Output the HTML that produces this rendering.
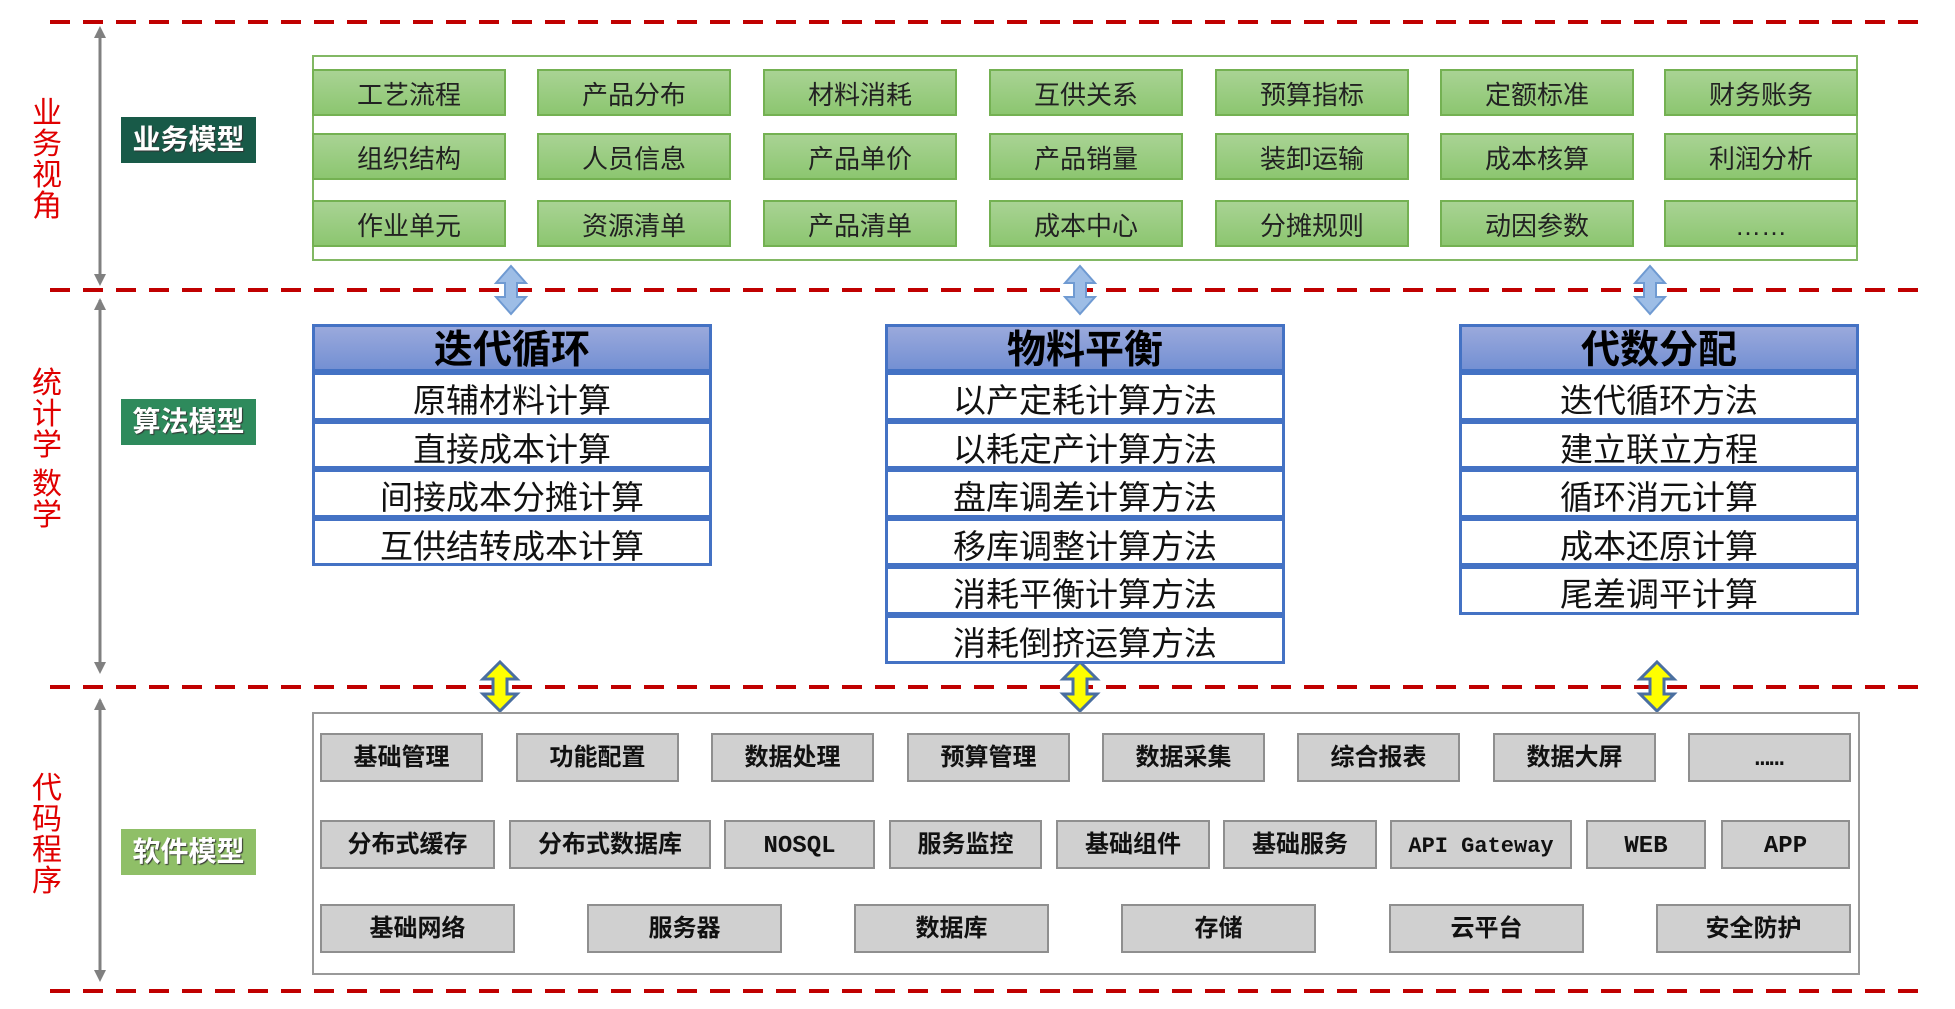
<!DOCTYPE html>
<html><head><meta charset="utf-8">
<style>
body{margin:0;width:1955px;height:1009px;background:#fff;position:relative;overflow:hidden;font-family:"Liberation Sans","Noto Sans CJK SC",sans-serif}
.a{position:absolute;box-sizing:border-box}
.dash{position:absolute;left:50px;width:1876px;height:4px;background:repeating-linear-gradient(90deg,#c00000 0 20px,transparent 20px 33px)}
.vt{position:absolute;left:30px;width:34px;color:#e00000;font-size:30px;line-height:31px;text-align:center}
.lab{position:absolute;left:121px;width:135px;height:46px;color:#fff;font-weight:bold;font-size:28px;line-height:46px;text-align:center;text-shadow:1px 1px 1px #333}
.g{position:absolute;width:194px;height:47px;background:linear-gradient(#a9d394,#8cc670);border:2px solid #74b152;box-sizing:border-box;font-size:26px;line-height:48px;text-align:center;color:#222}
.alg{position:absolute;width:400px;box-sizing:border-box}
.hd{height:48px;background:linear-gradient(#9aa9dc,#7490d3);border:3px solid #4472c4;font-weight:bold;font-size:39px;line-height:48px;text-align:center;color:#000;box-sizing:border-box;overflow:hidden}
.r{height:48.6px;border:3px solid #4472c4;background:#fff;font-size:33px;line-height:51px;text-align:center;color:#111;box-sizing:border-box;overflow:hidden}
.s{position:absolute;height:49px;background:#d0d0d0;border:2px solid #8f8f8f;box-sizing:border-box;font-weight:bold;font-size:24px;line-height:50px;text-align:center;color:#111;font-family:"Liberation Mono","Noto Sans CJK SC",monospace;overflow:hidden}
</style></head><body>
<div class="dash" style="top:20px"></div>
<div class="dash" style="top:288px"></div>
<div class="dash" style="top:685px"></div>
<div class="dash" style="top:989px"></div>

<svg class="a" style="left:0;top:0" width="1955" height="1009">
<g stroke="#808080" stroke-width="3">
<line x1="100" y1="30" x2="100" y2="282"/><path d="M94,38 L100,26 L106,38z M94,274 L100,286 L106,274z" fill="#808080" stroke="none"/>
<line x1="100" y1="300" x2="100" y2="670"/><path d="M94,310 L100,298 L106,310z M94,662 L100,674 L106,662z" fill="#808080" stroke="none"/>
<line x1="100" y1="700" x2="100" y2="978"/><path d="M94,710 L100,698 L106,710z M94,970 L100,982 L106,970z" fill="#808080" stroke="none"/>
</g>
<g fill="#9dbde6" stroke="#6f9ad2" stroke-width="2">
<path d="M511,266 L526,283 L517,283 L517,297 L526,297 L511,314 L496,297 L505,297 L505,283 L496,283z"/>
<path d="M1080,266 L1095,283 L1086,283 L1086,297 L1095,297 L1080,314 L1065,297 L1074,297 L1074,283 L1065,283z"/>
<path d="M1650,266 L1665,283 L1656,283 L1656,297 L1665,297 L1650,314 L1635,297 L1644,297 L1644,283 L1635,283z"/>
</g>
<g fill="#ffff00" stroke="#4a6fa0" stroke-width="3">
<path d="M500,662 L517,679 L507,679 L507,694 L517,694 L500,711 L483,694 L493,694 L493,679 L483,679z"/>
<path d="M1080,662 L1097,679 L1087,679 L1087,694 L1097,694 L1080,711 L1063,694 L1073,694 L1073,679 L1063,679z"/>
<path d="M1657,662 L1674,679 L1664,679 L1664,694 L1674,694 L1657,711 L1640,694 L1650,694 L1650,679 L1640,679z"/>
</g>
</svg>

<div class="vt" style="top:98px">业<br>务<br>视<br>角</div>
<div class="vt" style="top:368px">统<br>计<br>学<br><span style="display:block;height:8px"></span>数<br>学</div>
<div class="vt" style="top:773px">代<br>码<br>程<br>序</div>

<div class="lab" style="top:117px;background:#185a48">业务模型</div>
<div class="lab" style="top:399px;background:#2e8a5c">算法模型</div>
<div class="lab" style="top:829px;background:#8fbf67">软件模型</div>

<div class="a" style="left:312px;top:55px;width:1546px;height:206px;border:2px solid #82b864"></div>
<div class="g" style="left:312px;top:69px">工艺流程</div><div class="g" style="left:537px;top:69px">产品分布</div><div class="g" style="left:763px;top:69px">材料消耗</div><div class="g" style="left:989px;top:69px">互供关系</div><div class="g" style="left:1215px;top:69px">预算指标</div><div class="g" style="left:1440px;top:69px">定额标准</div><div class="g" style="left:1664px;top:69px">财务账务</div>
<div class="g" style="left:312px;top:133px">组织结构</div><div class="g" style="left:537px;top:133px">人员信息</div><div class="g" style="left:763px;top:133px">产品单价</div><div class="g" style="left:989px;top:133px">产品销量</div><div class="g" style="left:1215px;top:133px">装卸运输</div><div class="g" style="left:1440px;top:133px">成本核算</div><div class="g" style="left:1664px;top:133px">利润分析</div>
<div class="g" style="left:312px;top:200px">作业单元</div><div class="g" style="left:537px;top:200px">资源清单</div><div class="g" style="left:763px;top:200px">产品清单</div><div class="g" style="left:989px;top:200px">成本中心</div><div class="g" style="left:1215px;top:200px">分摊规则</div><div class="g" style="left:1440px;top:200px">动因参数</div><div class="g" style="left:1664px;top:200px">……</div>

<div class="alg" style="left:312px;top:324px"><div class="hd">迭代循环</div><div class="r">原辅材料计算</div><div class="r">直接成本计算</div><div class="r">间接成本分摊计算</div><div class="r">互供结转成本计算</div></div>
<div class="alg" style="left:885px;top:324px"><div class="hd">物料平衡</div><div class="r">以产定耗计算方法</div><div class="r">以耗定产计算方法</div><div class="r">盘库调差计算方法</div><div class="r">移库调整计算方法</div><div class="r">消耗平衡计算方法</div><div class="r">消耗倒挤运算方法</div></div>
<div class="alg" style="left:1459px;top:324px"><div class="hd">代数分配</div><div class="r">迭代循环方法</div><div class="r">建立联立方程</div><div class="r">循环消元计算</div><div class="r">成本还原计算</div><div class="r">尾差调平计算</div></div>

<div class="a" style="left:312px;top:712px;width:1548px;height:263px;border:2px solid #999"></div>
<div class="s" style="left:320px;top:733px;width:163px">基础管理</div><div class="s" style="left:516px;top:733px;width:163px">功能配置</div><div class="s" style="left:711px;top:733px;width:163px">数据处理</div><div class="s" style="left:907px;top:733px;width:163px">预算管理</div><div class="s" style="left:1102px;top:733px;width:163px">数据采集</div><div class="s" style="left:1297px;top:733px;width:163px">综合报表</div><div class="s" style="left:1493px;top:733px;width:163px">数据大屏</div><div class="s" style="left:1688px;top:733px;width:163px">……</div>
<div class="s" style="left:320px;top:820px;width:175px">分布式缓存</div><div class="s" style="left:509px;top:820px;width:202px">分布式数据库</div><div class="s" style="left:724px;top:820px;width:151px">NOSQL</div><div class="s" style="left:889px;top:820px;width:153px">服务监控</div><div class="s" style="left:1056px;top:820px;width:154px">基础组件</div><div class="s" style="left:1223px;top:820px;width:154px">基础服务</div><div class="s" style="left:1390px;top:820px;width:182px;font-size:22px">API Gateway</div><div class="s" style="left:1586px;top:820px;width:120px">WEB</div><div class="s" style="left:1721px;top:820px;width:129px">APP</div>
<div class="s" style="left:320px;top:904px;width:195px">基础网络</div><div class="s" style="left:587px;top:904px;width:195px">服务器</div><div class="s" style="left:854px;top:904px;width:195px">数据库</div><div class="s" style="left:1121px;top:904px;width:195px">存储</div><div class="s" style="left:1389px;top:904px;width:195px">云平台</div><div class="s" style="left:1656px;top:904px;width:195px">安全防护</div>
</body></html>
